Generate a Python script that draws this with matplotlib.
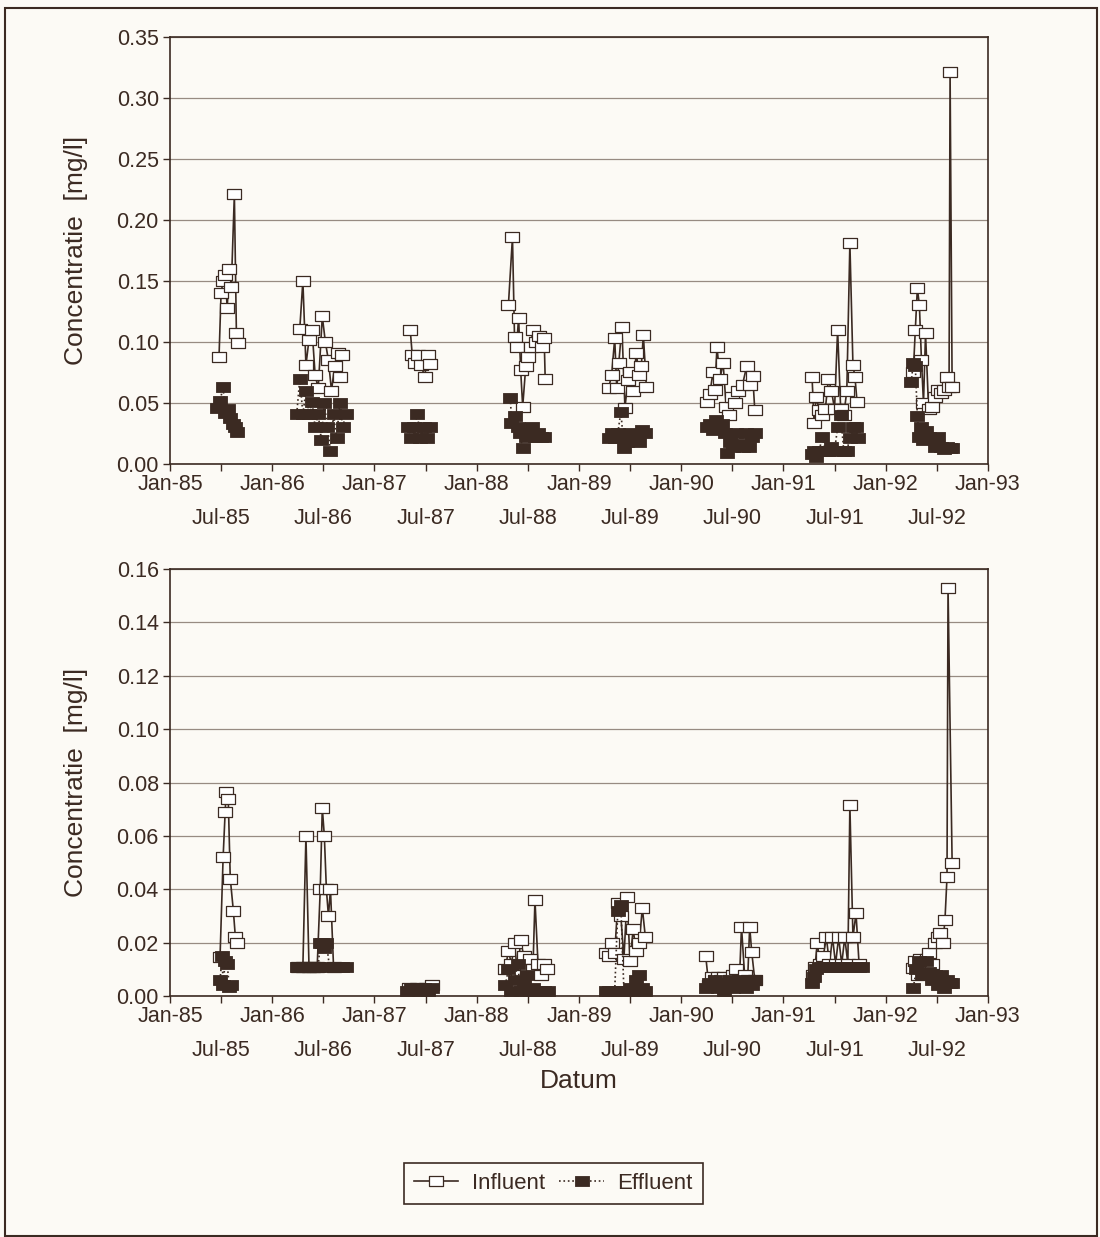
import numpy as np
import matplotlib
matplotlib.use("Agg")
import matplotlib.pyplot as plt
from matplotlib.path import Path
from matplotlib.patches import Rectangle
from matplotlib.ticker import MultipleLocator, FixedLocator, FixedFormatter, FormatStrFormatter

plt.rcParams['font.family'] = ['Liberation Sans', 'DejaVu Sans']

# --- data: decimal year, one inner list per sampling campaign ---
top_inf_t = [
    [1985.48, 1985.50, 1985.52, 1985.54, 1985.56, 1985.58, 1985.60, 1985.63, 1985.65, 1985.67],
    [1986.27, 1986.30, 1986.33, 1986.36, 1986.39, 1986.42, 1986.45, 1986.49, 1986.52, 1986.55, 1986.58, 1986.61, 1986.64, 1986.66, 1986.68],
    [1987.35, 1987.37, 1987.40, 1987.43, 1987.46, 1987.49, 1987.52, 1987.54],
    [1988.31, 1988.35, 1988.37, 1988.39, 1988.41, 1988.43, 1988.45, 1988.48, 1988.50, 1988.53, 1988.55, 1988.58, 1988.61, 1988.64, 1988.66, 1988.67],
    [1989.29, 1989.32, 1989.35, 1989.37, 1989.39, 1989.42, 1989.45, 1989.48, 1989.50, 1989.53, 1989.56, 1989.59, 1989.61, 1989.63, 1989.66],
    [1990.25, 1990.28, 1990.31, 1990.33, 1990.35, 1990.38, 1990.41, 1990.44, 1990.47, 1990.50, 1990.53, 1990.56, 1990.60, 1990.64, 1990.67, 1990.70, 1990.72],
    [1991.28, 1991.30, 1991.32, 1991.35, 1991.38, 1991.41, 1991.44, 1991.47, 1991.50, 1991.53, 1991.56, 1991.59, 1991.62, 1991.65, 1991.68, 1991.70, 1991.72],
    [1992.27, 1992.29, 1992.31, 1992.33, 1992.35, 1992.37, 1992.39, 1992.42, 1992.45, 1992.48, 1992.51, 1992.54, 1992.57, 1992.60, 1992.62, 1992.63, 1992.65],
]
top_inf_v = [
    [0.088, 0.140, 0.150, 0.155, 0.128, 0.160, 0.145, 0.221, 0.107, 0.099],
    [0.111, 0.150, 0.081, 0.102, 0.110, 0.073, 0.062, 0.121, 0.100, 0.085, 0.060, 0.080, 0.091, 0.071, 0.089],
    [0.110, 0.089, 0.083, 0.089, 0.081, 0.071, 0.089, 0.082],
    [0.130, 0.186, 0.104, 0.096, 0.120, 0.077, 0.047, 0.080, 0.088, 0.096, 0.110, 0.100, 0.105, 0.096, 0.103, 0.070],
    [0.062, 0.073, 0.103, 0.062, 0.083, 0.112, 0.046, 0.069, 0.075, 0.060, 0.091, 0.073, 0.080, 0.106, 0.063],
    [0.051, 0.057, 0.075, 0.061, 0.096, 0.070, 0.083, 0.047, 0.040, 0.055, 0.050, 0.060, 0.065, 0.080, 0.065, 0.072, 0.044],
    [0.071, 0.034, 0.055, 0.044, 0.040, 0.045, 0.070, 0.060, 0.045, 0.110, 0.045, 0.040, 0.060, 0.181, 0.081, 0.071, 0.051],
    [0.075, 0.110, 0.144, 0.130, 0.085, 0.050, 0.107, 0.045, 0.047, 0.055, 0.061, 0.058, 0.061, 0.071, 0.063, 0.321, 0.063],
]
top_eff_t = [
    [1985.46, 1985.49, 1985.52, 1985.54, 1985.57, 1985.59, 1985.62, 1985.64, 1985.66],
    [1986.24, 1986.27, 1986.30, 1986.33, 1986.36, 1986.39, 1986.42, 1986.45, 1986.48, 1986.51, 1986.54, 1986.57, 1986.60, 1986.63, 1986.66, 1986.69, 1986.72],
    [1987.33, 1987.36, 1987.39, 1987.42, 1987.45, 1987.48, 1987.51, 1987.54],
    [1988.33, 1988.34, 1988.37, 1988.40, 1988.42, 1988.45, 1988.48, 1988.51, 1988.54, 1988.57, 1988.60, 1988.63, 1988.66],
    [1989.29, 1989.32, 1989.35, 1989.38, 1989.41, 1989.44, 1989.47, 1989.50, 1989.53, 1989.56, 1989.59, 1989.62, 1989.65],
    [1990.25, 1990.28, 1990.31, 1990.34, 1990.37, 1990.40, 1990.43, 1990.45, 1990.48, 1990.51, 1990.54, 1990.57, 1990.60, 1990.63, 1990.66, 1990.69, 1990.72],
    [1991.28, 1991.30, 1991.32, 1991.35, 1991.38, 1991.41, 1991.44, 1991.47, 1991.50, 1991.53, 1991.56, 1991.59, 1991.62, 1991.65, 1991.68, 1991.71, 1991.73],
    [1992.25, 1992.27, 1992.29, 1992.31, 1992.33, 1992.35, 1992.37, 1992.39, 1992.42, 1992.45, 1992.48, 1992.51, 1992.54, 1992.57, 1992.60, 1992.63, 1992.65],
]
top_eff_v = [
    [0.046, 0.052, 0.063, 0.042, 0.045, 0.038, 0.033, 0.030, 0.026],
    [0.041, 0.070, 0.041, 0.060, 0.041, 0.051, 0.030, 0.041, 0.020, 0.050, 0.030, 0.011, 0.041, 0.021, 0.050, 0.030, 0.041],
    [0.030, 0.021, 0.030, 0.041, 0.021, 0.030, 0.021, 0.030],
    [0.054, 0.034, 0.039, 0.030, 0.025, 0.013, 0.022, 0.025, 0.030, 0.022, 0.025, 0.022, 0.022],
    [0.021, 0.025, 0.021, 0.025, 0.043, 0.013, 0.018, 0.025, 0.020, 0.024, 0.018, 0.028, 0.025],
    [0.030, 0.033, 0.028, 0.036, 0.030, 0.033, 0.025, 0.009, 0.018, 0.014, 0.025, 0.016, 0.014, 0.025, 0.014, 0.022, 0.025],
    [0.008, 0.011, 0.006, 0.011, 0.022, 0.011, 0.011, 0.014, 0.011, 0.030, 0.040, 0.011, 0.011, 0.021, 0.030, 0.030, 0.021],
    [0.067, 0.083, 0.080, 0.039, 0.022, 0.030, 0.020, 0.027, 0.022, 0.021, 0.014, 0.022, 0.014, 0.012, 0.014, 0.013, 0.013],
]

bot_inf_t = [
    [1985.49, 1985.52, 1985.54, 1985.55, 1985.57, 1985.59, 1985.62, 1985.64, 1985.66],
    [1986.25, 1986.30, 1986.33, 1986.36, 1986.40, 1986.44, 1986.47, 1986.49, 1986.51, 1986.53, 1986.55, 1986.57, 1986.60],
    [1987.34, 1987.42, 1987.50, 1987.56],
    [1988.28, 1988.31, 1988.34, 1988.37, 1988.40, 1988.43, 1988.46, 1988.49, 1988.52, 1988.55, 1988.57, 1988.60, 1988.63, 1988.66, 1988.69],
    [1989.26, 1989.29, 1989.32, 1989.35, 1989.38, 1989.41, 1989.44, 1989.47, 1989.50, 1989.53, 1989.56, 1989.59, 1989.62, 1989.65],
    [1990.24, 1990.27, 1990.30, 1990.33, 1990.36, 1990.39, 1990.42, 1990.45, 1990.48, 1990.51, 1990.54, 1990.57, 1990.59, 1990.62, 1990.65, 1990.67, 1990.69, 1990.72],
    [1991.29, 1991.31, 1991.33, 1991.36, 1991.39, 1991.42, 1991.45, 1991.48, 1991.51, 1991.54, 1991.57, 1991.60, 1991.63, 1991.65, 1991.68, 1991.71, 1991.74],
    [1992.27, 1992.29, 1992.32, 1992.34, 1992.37, 1992.40, 1992.42, 1992.45, 1992.48, 1992.51, 1992.53, 1992.56, 1992.58, 1992.60, 1992.61, 1992.65],
]
bot_inf_v = [
    [0.0146, 0.052, 0.069, 0.0765, 0.074, 0.044, 0.032, 0.022, 0.020],
    [0.011, 0.011, 0.060, 0.011, 0.011, 0.011, 0.040, 0.0705, 0.060, 0.040, 0.030, 0.040, 0.011],
    [0.003, 0.003, 0.003, 0.004],
    [0.010, 0.017, 0.012, 0.020, 0.008, 0.021, 0.015, 0.010, 0.014, 0.010, 0.036, 0.012, 0.008, 0.012, 0.010],
    [0.016, 0.015, 0.020, 0.016, 0.035, 0.030, 0.014, 0.037, 0.013, 0.025, 0.017, 0.020, 0.033, 0.022],
    [0.015, 0.004, 0.007, 0.006, 0.007, 0.006, 0.007, 0.005, 0.006, 0.008, 0.010, 0.006, 0.026, 0.008, 0.006, 0.026, 0.0165, 0.006],
    [0.008, 0.011, 0.020, 0.012, 0.015, 0.022, 0.012, 0.022, 0.012, 0.022, 0.012, 0.022, 0.012, 0.0716, 0.022, 0.031, 0.012],
    [0.0105, 0.013, 0.008, 0.014, 0.010, 0.014, 0.016, 0.012, 0.020, 0.022, 0.0236, 0.020, 0.0285, 0.0446, 0.153, 0.050],
]
bot_eff_t = [
    [1985.49, 1985.51, 1985.52, 1985.54, 1985.56, 1985.58, 1985.60],
    [1986.24, 1986.27, 1986.30, 1986.33, 1986.36, 1986.39, 1986.42, 1986.45, 1986.47, 1986.49, 1986.51, 1986.53, 1986.56, 1986.60, 1986.64, 1986.68, 1986.72],
    [1987.32, 1987.36, 1987.40, 1987.44, 1987.48, 1987.52, 1987.56],
    [1988.28, 1988.31, 1988.34, 1988.37, 1988.40, 1988.43, 1988.46, 1988.49, 1988.52, 1988.55, 1988.58, 1988.62, 1988.66, 1988.70],
    [1989.26, 1989.29, 1989.32, 1989.35, 1989.38, 1989.41, 1989.44, 1989.47, 1989.50, 1989.53, 1989.56, 1989.59, 1989.62, 1989.65],
    [1990.24, 1990.27, 1990.30, 1990.33, 1990.36, 1990.39, 1990.42, 1990.45, 1990.48, 1990.51, 1990.54, 1990.57, 1990.60, 1990.63, 1990.66, 1990.69, 1990.72],
    [1991.28, 1991.30, 1991.32, 1991.35, 1991.38, 1991.41, 1991.44, 1991.47, 1991.50, 1991.53, 1991.56, 1991.59, 1991.62, 1991.65, 1991.68, 1991.71, 1991.74, 1991.77],
    [1992.27, 1992.30, 1992.33, 1992.36, 1992.39, 1992.42, 1992.45, 1992.48, 1992.51, 1992.54, 1992.57, 1992.60, 1992.63, 1992.65],
]
bot_eff_v = [
    [0.006, 0.015, 0.004, 0.013, 0.012, 0.0035, 0.004],
    [0.011, 0.011, 0.011, 0.011, 0.011, 0.011, 0.011, 0.011, 0.020, 0.020, 0.018, 0.020, 0.011, 0.011, 0.011, 0.011, 0.011],
    [0.002, 0.003, 0.003, 0.002, 0.003, 0.002, 0.003],
    [0.004, 0.010, 0.002, 0.006, 0.012, 0.002, 0.005, 0.008, 0.002, 0.003, 0.002, 0.002, 0.002, 0.002],
    [0.002, 0.002, 0.002, 0.002, 0.032, 0.034, 0.002, 0.002, 0.003, 0.002, 0.006, 0.008, 0.003, 0.002],
    [0.003, 0.005, 0.004, 0.006, 0.003, 0.005, 0.002, 0.004, 0.006, 0.003, 0.005, 0.004, 0.006, 0.003, 0.005, 0.004, 0.006],
    [0.005, 0.007, 0.010, 0.011, 0.011, 0.011, 0.011, 0.011, 0.011, 0.011, 0.011, 0.011, 0.011, 0.011, 0.011, 0.011, 0.011, 0.011],
    [0.003, 0.010, 0.013, 0.008, 0.013, 0.009, 0.006, 0.008, 0.004, 0.008, 0.003, 0.006, 0.005, 0.005],
]

years = list(range(1985, 1994))
jan_labels = [f"Jan-{y % 100:02d}" for y in years]
jul_labels = [f"Jul-{y % 100:02d}" for y in years[:-1]]

INK = "#3b2a22"
GRID = "#978b82"
BG = "#fcfaf5"


def join(clusters):
    # NaN between campaigns so the lines break
    out = []
    for c in clusters:
        out.extend(c)
        out.append(np.nan)
    return np.array(out[:-1], dtype=float)


rect = Path([(-1.35, -1), (1.35, -1), (1.35, 1), (-1.35, 1), (-1.35, -1)],
            [Path.MOVETO, Path.LINETO, Path.LINETO, Path.LINETO, Path.CLOSEPOLY])

fig = plt.figure(figsize=(11, 12.37), dpi=100, facecolor=BG)
ax1 = fig.add_axes([0.1545, 0.6249, 0.7436, 0.3452])
ax2 = fig.add_axes([0.1545, 0.1948, 0.7436, 0.3452])

panels = [
    (ax1, top_inf_t, top_inf_v, top_eff_t, top_eff_v, 0.35, 0.05),
    (ax2, bot_inf_t, bot_inf_v, bot_eff_t, bot_eff_v, 0.16, 0.02),
]

for ax, it, iv, et, ev, ymax, ystep in panels:
    ax.set_facecolor(BG)
    l_inf, = ax.plot(join(it), join(iv), "-", color=INK, lw=1.2, marker=rect, ms=9.5,
                     mfc="white", mec=INK, mew=0.9, label="Influent", zorder=3)
    l_eff, = ax.plot(join(et), join(ev), ":", color=INK, lw=1.2, marker=rect, ms=10.5,
                     mfc=INK, mec=INK, mew=0.6, label="Effluent", zorder=4)
    ax.set_xlim(1985, 1993)
    ax.set_ylim(0, ymax)
    ax.yaxis.set_major_locator(MultipleLocator(ystep))
    ax.yaxis.set_major_formatter(FormatStrFormatter("%.2f"))
    ax.xaxis.set_major_locator(FixedLocator(years))
    ax.xaxis.set_major_formatter(FixedFormatter(jan_labels))
    ax.xaxis.set_minor_locator(FixedLocator([y + 0.5 for y in years[:-1]]))
    ax.xaxis.set_minor_formatter(FixedFormatter(jul_labels))
    ax.tick_params(axis="x", which="both", direction="out", length=5, width=1.0,
                   color=INK, labelcolor=INK, labelsize=15.5)
    ax.tick_params(axis="x", which="major", pad=2.5)
    ax.tick_params(axis="x", which="minor", pad=26.5)
    ax.tick_params(axis="y", direction="out", length=5, width=1.0, pad=3,
                   color=INK, labelcolor=INK, labelsize=15.5)
    ax.grid(axis="y", color=GRID, lw=0.9)
    ax.set_axisbelow(True)
    for s in ax.spines.values():
        s.set_color(INK)
        s.set_linewidth(1.2)
    ax.set_ylabel("Concentratie  [mg/l]", fontsize=19, color=INK)
    ax.yaxis.set_label_coords(-0.100, 0.5)

ax2.set_xlabel("Datum", fontsize=19, color=INK)
ax2.xaxis.set_label_coords(0.5, -0.172)

leg = fig.legend(handles=[l_inf, l_eff], loc="center", bbox_to_anchor=(0.503, 0.0436),
                 ncol=2, fontsize=16, frameon=True, fancybox=False, edgecolor=INK,
                 facecolor=BG, framealpha=1, handlelength=2.0, handletextpad=0.6,
                 columnspacing=0.65, borderpad=0.45, numpoints=1, labelcolor=INK)
leg.get_frame().set_linewidth(1.2)

fig.patches.append(Rectangle((5 / 1100, 1 - 1236 / 1237), 1092 / 1100, 1228 / 1237,
                             transform=fig.transFigure, fill=False, ec=INK, lw=1.5))

fig.savefig("out.png", dpi=100, facecolor=BG)
